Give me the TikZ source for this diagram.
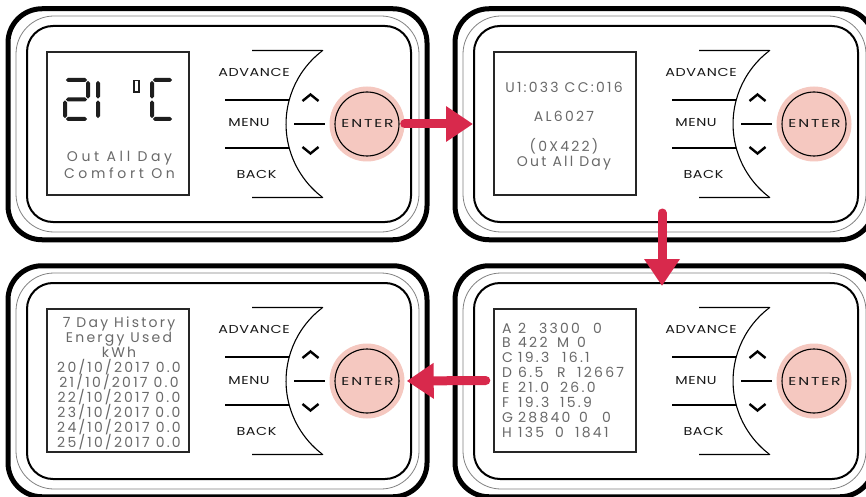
\documentclass[tikz,border=0pt]{standalone}
\usepackage{fontspec}
\setmainfont{Poppins}
\newfontfamily\btnfont{Poppins}[FakeStretch=1.25, LetterSpace=5]
\newfontfamily\enterfont{Poppins}[FakeStretch=1.35, LetterSpace=16]
\newfontfamily\dispfont{Poppins}[LetterSpace=16]
\newfontfamily\dispwidefont{Poppins}[LetterSpace=26]
\usetikzlibrary{arrows.meta,calc}
\definecolor{arrowred}{RGB}{216,41,76}
\definecolor{enterpink}{RGB}{245,200,192}
\definecolor{disptext}{RGB}{105,105,105}
\definecolor{thinframecol}{RGB}{130,130,130}
\definecolor{segcol}{RGB}{30,30,30}
\tikzset{
 outerframe/.style={draw=black, line width=5pt, rounded corners=34pt, minimum width=419pt, minimum height=231pt, inner sep=0pt},
 thinframe/.style={draw=thinframecol, line width=0.8pt, rounded corners=38pt, minimum width=403pt, minimum height=216pt, inner sep=0pt},
 innerframe/.style={draw=black, line width=2pt, rounded corners=26pt, minimum width=384pt, minimum height=196pt, inner sep=0pt},
 dispbox/.style={draw=black!85, line width=1.4pt, minimum width=142pt, minimum height=143pt, inner sep=0pt},
 btnline/.style={line width=1.1pt},
 chevron/.style={line width=2.4pt},
 btnlabel/.style={font=\btnfont\fontsize{11.5}{12}\selectfont, text=black!90, anchor=base, inner sep=0pt},
 enterlabel/.style={font=\enterfont\fontsize{11.5}{12}\selectfont, text=black!90, anchor=base, inner sep=0pt},
 enterhalo/.style={circle, fill=enterpink, minimum size=75pt, inner sep=0pt},
 enterring/.style={circle, draw=black, line width=1.1pt, minimum size=64pt, inner sep=0pt},
 disptxt/.style={font=\dispfont\fontsize{14}{15}\selectfont, text=disptext, inner sep=0pt, anchor=base},
 disptxtwide/.style={disptxt, font=\dispwidefont\fontsize{14}{15}\selectfont},
 disptxtl/.style={disptxt, anchor=base west},
 redarrow/.style={draw=arrowred, line width=9pt, line cap=round, -{Triangle[length=27pt,width=34pt]}},
}
\newcommand{\hseg}[3]{\fill[segcol] (#1,#2) -- ({#1+2},{#2-2}) -- ({#1+#3-2},{#2-2}) -- ({#1+#3},#2) -- ({#1+#3-2},{#2+2}) -- ({#1+2},{#2+2}) -- cycle;}
\newcommand{\vseg}[3]{\fill[segcol] (#1,#2) -- ({#1+2},{#2+2}) -- ({#1+2},{#2+#3-2}) -- (#1,{#2+#3}) -- ({#1-2},{#2+#3-2}) -- ({#1-2},{#2+2}) -- cycle;}
\newcommand{\tk}[2]{\makebox[0pt][l]{\hspace*{#1pt}#2}}
\newcommand{\thermopanel}[3]{%
\begin{scope}[shift={(#2,#3)}]
 \node[outerframe] (outer#1) at (217.5,124.25) {};
 \node[thinframe] (thin#1) at (217.5,124) {};
 \node[innerframe] (frame#1) at (219,124) {};
 \node[dispbox] (disp#1) at (118,123.5) {};
 \draw[btnline] (252,50.5) -- (318,50.5) .. controls (322,50.5) and (323.8,49.7) .. (321.4,51.5)
   arc[start angle=232, end angle=128, radius=92]
   .. controls (323.8,198.3) and (322,197.5) .. (318,197.5) -- (252,197.5);
 \draw[btnline] (225,100) -- (289,100);
 \draw[btnline] (225,148) -- (289,148);
 \draw[btnline] (294,124) -- (325,124);
 \draw[chevron] (302.5,101) -- (310.5,94.5) -- (318.5,101);
 \draw[chevron] (302.5,147) -- (310.5,153.5) -- (318.5,147);
 \node[btnlabel] (adv#1) at (254,76.5) {ADVANCE};
 \node[btnlabel] (menu#1) at (249,127) {MENU};
 \node[btnlabel] (back#1) at (256.5,178.5) {BACK};
 \node[enterhalo] (enter#1) at (367,124) {};
 \node[enterring] (ring#1) at (enter#1.center) {};
 \node[enterlabel] (entertxt#1) at (367.5,128) {ENTER};
\end{scope}}
\begin{document}
\begin{tikzpicture}[x=1pt,y=-1pt]
\useasboundingbox (0,0) rectangle (866,497);
\clip (0,0) rectangle (866,497);
\fill[white] (0,0) rectangle (866,497);
\thermopanel{1}{0}{0}
\thermopanel{2}{447}{0}
\thermopanel{3}{0}{257}
\thermopanel{4}{447}{257}
% panel 1 display: 21 degC
\hseg{65.8}{80}{21.4}
\vseg{88}{80.8}{17.9}
\hseg{65.8}{99.5}{21.4}
\vseg{65}{100.3}{17.9}
\hseg{65.8}{119}{21.4}
\vseg{98}{80.8}{17.9}
\vseg{98}{100.3}{17.9}
\draw[segcol, line width=1.4pt] (133.8,80.5) rectangle (139,92);
\hseg{152.8}{80}{19.4}
\vseg{152}{80.8}{17.9}
\vseg{152}{100.3}{17.9}
\hseg{152.8}{119}{19.4}
\node[disptxtwide] (t1a) at (119.5,161) {Out All Day};
\node[disptxtwide] (t1b) at (119.5,178.5) {Comfort On};
% panel 2 display
\node[disptxt] (t2a) at (564,93) {U1:033 CC:016};
\node[disptxt] (t2b) at (564,122) {AL6027};
\node[disptxt] (t2c) at (564,152) {(0X422)};
\node[disptxt] (t2d) at (564,166) {Out All Day};
% panel 3 display
\node[disptxt] (t3a) at (119,327) {7 Day History};
\node[disptxt] (t3b) at (119,342) {Energy Used};
\node[disptxt] (t3c) at (119,357) {kWh};
\node[disptxt] (t3d) at (119,372) {20/10/2017 0.0};
\node[disptxt] (t3e) at (119,387) {21/10/2017 0.0};
\node[disptxt] (t3f) at (119,402) {22/10/2017 0.0};
\node[disptxt] (t3g) at (119,417) {23/10/2017 0.0};
\node[disptxt] (t3h) at (119,432) {24/10/2017 0.0};
\node[disptxt] (t3i) at (119,447) {25/10/2017 0.0};
% panel 4 display
\node[disptxtl] (t4a) at (501.5,333) {\tk{0}{A}\tk{16}{2}\tk{37}{3300}\tk{91}{0}};
\node[disptxtl] (t4b) at (501.5,347.9) {\tk{0}{B}\tk{16}{422}\tk{55}{M}\tk{75}{0}};
\node[disptxtl] (t4c) at (501.5,362.7) {\tk{0}{C}\tk{16}{19.3}\tk{60}{16.1}};
\node[disptxtl] (t4d) at (501.5,377.6) {\tk{0}{D}\tk{16}{6.5}\tk{55}{R}\tk{75}{12667}};
\node[disptxtl] (t4e) at (501.5,392.4) {\tk{0}{E}\tk{16}{21.0}\tk{58}{26.0}};
\node[disptxtl] (t4f) at (501.5,407.3) {\tk{0}{F}\tk{16}{19.3}\tk{58}{15.9}};
\node[disptxtl] (t4g) at (501.5,422.1) {\tk{0}{G}\tk{16}{28840}\tk{77}{0}\tk{100}{0}};
\node[disptxtl] (t4h) at (501.5,437) {\tk{0}{H}\tk{16}{135}\tk{53}{0}\tk{73}{1841}};
% arrows
\coordinate (a1e) at (frame2.west |- enter1.east);
\draw[redarrow] (enter1.east) -- (a1e);
\coordinate (a2s) at (662,213);
\coordinate (a2e) at ($(frame4.north -| a2s)+(0,4)$);
\draw[redarrow] (a2s) -- (a2e);
\coordinate (a3s) at ($(disp4.west)+(-7.5,0)$);
\coordinate (a3e) at ($(enter3.east)+(2,0)$);
\draw[redarrow] (a3s) -- (a3e);
\end{tikzpicture}
\end{document}
